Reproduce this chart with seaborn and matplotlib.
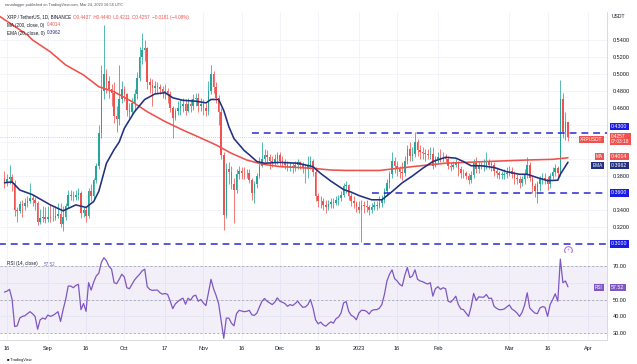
import matplotlib
matplotlib.use("Agg")
import matplotlib.pyplot as plt
import matplotlib.dates as mdates
import numpy as np
import pandas as pd
import seaborn as sns

# --- data (XRP/USDT daily, Binance) ---
start_day = "2022-08-15"
first_open = 0.378

close = [0.373, 0.376, 0.379, 0.372, 0.340, 0.339, 0.347, 0.345, 0.348, 0.350,
         0.354, 0.352, 0.348, 0.326, 0.330, 0.332, 0.329, 0.332, 0.330, 0.331,
         0.333, 0.335, 0.324, 0.332, 0.345, 0.358, 0.357, 0.355, 0.358, 0.360,
         0.336, 0.340, 0.333, 0.362, 0.356, 0.375, 0.392, 0.430, 0.480, 0.500,
         0.492, 0.482, 0.478, 0.450, 0.447, 0.470, 0.482, 0.476, 0.458, 0.455,
         0.466, 0.476, 0.495, 0.520, 0.528, 0.531, 0.490, 0.487, 0.484, 0.486,
         0.485, 0.482, 0.479, 0.480, 0.476, 0.460, 0.448, 0.456, 0.460, 0.462,
         0.465, 0.457, 0.465, 0.462, 0.470, 0.472, 0.462, 0.465, 0.460, 0.456,
         0.480, 0.500, 0.485, 0.472, 0.455, 0.405, 0.334, 0.388, 0.385, 0.370,
         0.364, 0.382, 0.386, 0.384, 0.383, 0.384, 0.375, 0.360, 0.370, 0.380,
         0.392, 0.400, 0.405, 0.402, 0.398, 0.396, 0.400, 0.405, 0.398, 0.396,
         0.393, 0.390, 0.392, 0.390, 0.393, 0.397, 0.393, 0.389, 0.388, 0.392,
         0.398, 0.385, 0.356, 0.350, 0.350, 0.346, 0.344, 0.347, 0.349, 0.348,
         0.352, 0.354, 0.358, 0.368, 0.369, 0.356, 0.350, 0.348, 0.344, 0.340,
         0.346, 0.345, 0.343, 0.340, 0.344, 0.346, 0.345, 0.348, 0.352, 0.362,
         0.372, 0.382, 0.398, 0.392, 0.388, 0.385, 0.383, 0.398, 0.412, 0.403,
         0.406, 0.420, 0.410, 0.408, 0.407, 0.406, 0.405, 0.406, 0.392, 0.400,
         0.402, 0.400, 0.401, 0.400, 0.392, 0.391, 0.393, 0.396, 0.388, 0.384,
         0.383, 0.380, 0.375, 0.381, 0.395, 0.388, 0.392, 0.392, 0.392, 0.396,
         0.393, 0.393, 0.386, 0.383, 0.381, 0.381, 0.382, 0.384, 0.386, 0.382,
         0.378, 0.376, 0.372, 0.376, 0.382, 0.393, 0.378, 0.368, 0.362, 0.370,
         0.376, 0.378, 0.377, 0.370, 0.380, 0.385, 0.389, 0.384, 0.470, 0.432,
         0.4437, 0.4257]

high = [0.386, 0.382, 0.393, 0.382, 0.375, 0.344, 0.350, 0.352, 0.354, 0.356,
        0.372, 0.358, 0.355, 0.350, 0.341, 0.345, 0.344, 0.345, 0.346, 0.344,
        0.345, 0.348, 0.348, 0.345, 0.348, 0.364, 0.363, 0.362, 0.364, 0.366,
        0.362, 0.344, 0.345, 0.366, 0.370, 0.378, 0.395, 0.440, 0.510, 0.558,
        0.506, 0.498, 0.488, 0.490, 0.462, 0.510, 0.492, 0.486, 0.478, 0.466,
        0.472, 0.482, 0.502, 0.532, 0.548, 0.540, 0.532, 0.495, 0.494, 0.492,
        0.491, 0.488, 0.486, 0.488, 0.484, 0.480, 0.462, 0.460, 0.468, 0.470,
        0.472, 0.470, 0.472, 0.470, 0.476, 0.478, 0.478, 0.472, 0.470, 0.466,
        0.492, 0.510, 0.504, 0.490, 0.475, 0.460, 0.408, 0.395, 0.396, 0.392,
        0.378, 0.388, 0.392, 0.390, 0.390, 0.388, 0.388, 0.378, 0.374, 0.384,
        0.402, 0.420, 0.412, 0.410, 0.406, 0.404, 0.406, 0.408, 0.408, 0.404,
        0.400, 0.398, 0.396, 0.396, 0.398, 0.400, 0.398, 0.396, 0.394, 0.404,
        0.404, 0.400, 0.390, 0.360, 0.356, 0.354, 0.352, 0.352, 0.354, 0.354,
        0.356, 0.358, 0.362, 0.372, 0.374, 0.370, 0.360, 0.356, 0.350, 0.350,
        0.352, 0.350, 0.352, 0.346, 0.348, 0.350, 0.350, 0.356, 0.358, 0.366,
        0.376, 0.386, 0.408, 0.402, 0.398, 0.392, 0.396, 0.404, 0.416, 0.420,
        0.414, 0.432, 0.424, 0.416, 0.414, 0.412, 0.412, 0.414, 0.414, 0.404,
        0.408, 0.412, 0.408, 0.406, 0.404, 0.396, 0.398, 0.400, 0.398, 0.392,
        0.388, 0.386, 0.384, 0.386, 0.400, 0.402, 0.398, 0.396, 0.400, 0.408,
        0.400, 0.398, 0.396, 0.390, 0.386, 0.386, 0.388, 0.390, 0.392, 0.390,
        0.386, 0.382, 0.380, 0.380, 0.388, 0.402, 0.396, 0.380, 0.372, 0.374,
        0.380, 0.384, 0.384, 0.380, 0.384, 0.390, 0.394, 0.392, 0.493, 0.478,
        0.455, 0.4440]

low = [0.366, 0.368, 0.370, 0.362, 0.333, 0.326, 0.336, 0.332, 0.340, 0.344,
       0.348, 0.345, 0.340, 0.322, 0.324, 0.326, 0.325, 0.326, 0.326, 0.327,
       0.328, 0.330, 0.320, 0.315, 0.328, 0.342, 0.352, 0.350, 0.352, 0.352,
       0.330, 0.332, 0.326, 0.331, 0.350, 0.352, 0.372, 0.388, 0.425, 0.470,
       0.478, 0.472, 0.462, 0.442, 0.432, 0.440, 0.466, 0.468, 0.450, 0.448,
       0.452, 0.458, 0.470, 0.492, 0.512, 0.515, 0.482, 0.478, 0.462, 0.478,
       0.478, 0.477, 0.472, 0.470, 0.466, 0.455, 0.425, 0.446, 0.452, 0.452,
       0.455, 0.452, 0.455, 0.455, 0.458, 0.462, 0.455, 0.456, 0.452, 0.450,
       0.452, 0.476, 0.478, 0.466, 0.440, 0.400, 0.316, 0.330, 0.370, 0.365,
       0.325, 0.360, 0.376, 0.376, 0.376, 0.378, 0.372, 0.352, 0.348, 0.366,
       0.378, 0.390, 0.396, 0.396, 0.388, 0.390, 0.392, 0.394, 0.392, 0.390,
       0.388, 0.386, 0.386, 0.384, 0.386, 0.388, 0.388, 0.384, 0.372, 0.378,
       0.388, 0.380, 0.350, 0.344, 0.342, 0.340, 0.336, 0.340, 0.342, 0.342,
       0.346, 0.346, 0.350, 0.355, 0.360, 0.352, 0.345, 0.342, 0.338, 0.336,
       0.302, 0.336, 0.338, 0.334, 0.336, 0.340, 0.340, 0.342, 0.344, 0.348,
       0.356, 0.366, 0.378, 0.384, 0.380, 0.378, 0.375, 0.380, 0.394, 0.398,
       0.398, 0.402, 0.404, 0.400, 0.400, 0.398, 0.400, 0.400, 0.388, 0.390,
       0.394, 0.396, 0.396, 0.396, 0.388, 0.386, 0.388, 0.390, 0.380, 0.378,
       0.378, 0.376, 0.370, 0.372, 0.378, 0.384, 0.384, 0.388, 0.386, 0.388,
       0.388, 0.386, 0.380, 0.378, 0.376, 0.376, 0.376, 0.378, 0.380, 0.378,
       0.370, 0.370, 0.366, 0.368, 0.370, 0.378, 0.374, 0.360, 0.355, 0.348,
       0.362, 0.370, 0.370, 0.364, 0.366, 0.376, 0.380, 0.376, 0.380, 0.425,
       0.422, 0.4211]

rsi = [54.4, 55, 56, 50, 34, 34.4, 39, 40, 40.4, 41.6,
       42.8, 41.6, 40, 32.4, 38, 39, 38.4, 40.8, 40, 40.6,
       41.6, 42.8, 37, 44, 50, 58, 58, 57, 58.4, 59,
       44, 47.6, 43, 60, 55.6, 60.4, 64, 65.6, 72, 74.8,
       73, 69.6, 68, 60, 59.4, 62, 65, 63.4, 57, 56.4,
       59, 61.6, 63.4, 65, 67, 68, 57.6, 56, 55.4, 55.6,
       55.6, 54, 53.2, 53.6, 53, 49, 44.6, 47.4, 48.8, 50,
       50.8, 47.2, 50.8, 49.6, 52, 52.6, 49, 50, 48, 46.4,
       54, 62, 56.4, 52.4, 47.4, 37, 27, 39, 39, 36,
       34.4, 41.6, 43.6, 43.2, 42.8, 43, 43.6, 41, 40.6, 42,
       45.6, 49, 50.6, 49, 48, 47, 48.4, 51, 49, 48.4,
       47.6, 46, 47, 46.4, 47.6, 49, 47, 45.4, 45.6, 47,
       50, 45, 38, 35.6, 36.6, 35, 34.2, 35.6, 36.8, 36,
       38.6, 39.6, 42, 48, 48.8, 43, 40.6, 39.8, 38, 42,
       43.6, 43.6, 43, 41.4, 43.4, 44, 44, 44.8, 47, 53,
       61, 65, 67.6, 62.4, 61, 59, 58, 64.4, 69, 63,
       64, 67.6, 62, 61, 60.6, 59.8, 59.2, 60, 52, 56.4,
       57.6, 56, 57, 56.4, 49, 48.4, 50, 52, 47, 44.4,
       44, 42, 40, 45.6, 53.6, 49.4, 51.6, 51.4, 51.4, 53,
       50.6, 50.8, 46, 44.8, 44, 44, 44.4, 45.6, 46.8, 44.4,
       43.4, 42, 40, 42.4, 46.8, 54, 45, 43.4, 42, 41.6,
       45, 45.8, 45.4, 40, 47, 50, 53.4, 49, 74, 60,
       61, 57.52]

ma_dates = ["2022-08-13", "2022-08-17", "2022-08-24", "2022-08-26", "2022-09-02",
            "2022-09-08", "2022-09-15", "2022-09-21", "2022-09-27", "2022-10-04",
            "2022-10-10", "2022-10-17", "2022-10-24", "2022-10-30", "2022-11-06",
            "2022-11-12", "2022-11-18", "2022-11-24", "2022-12-01", "2022-12-08",
            "2022-12-14", "2022-12-21", "2022-12-27", "2023-01-09", "2023-01-22",
            "2023-02-04", "2023-02-18", "2023-03-08", "2023-03-18", "2023-03-24"]
ma_vals = [0.568, 0.560, 0.546, 0.540, 0.526, 0.5106, 0.4988, 0.485, 0.479, 0.4675,
           0.4556, 0.444, 0.434, 0.426, 0.4165, 0.4067, 0.3988, 0.394, 0.391, 0.390,
           0.389, 0.387, 0.3865, 0.3865, 0.391, 0.395, 0.3968, 0.3988, 0.3996, 0.4014]

ema_dates = ["2022-08-15", "2022-08-18", "2022-08-21", "2022-08-26", "2022-09-02",
             "2022-09-07", "2022-09-12", "2022-09-16", "2022-09-19", "2022-09-21",
             "2022-09-24", "2022-09-27", "2022-09-29", "2022-10-01", "2022-10-05",
             "2022-10-09", "2022-10-13", "2022-10-17", "2022-10-20", "2022-10-24",
             "2022-10-29", "2022-11-02", "2022-11-04", "2022-11-07", "2022-11-09",
             "2022-11-11", "2022-11-13", "2022-11-15", "2022-11-17", "2022-11-19",
             "2022-11-22", "2022-11-25", "2022-12-01", "2022-12-08", "2022-12-14",
             "2022-12-17", "2022-12-21", "2022-12-26", "2022-12-29", "2023-01-01",
             "2023-01-06", "2023-01-10", "2023-01-14", "2023-01-18", "2023-01-22",
             "2023-01-26", "2023-01-30", "2023-02-04", "2023-02-08", "2023-02-11",
             "2023-02-14", "2023-02-18", "2023-02-23", "2023-02-28", "2023-03-05",
             "2023-03-08", "2023-03-12", "2023-03-16", "2023-03-20", "2023-03-21",
             "2023-03-24"]
ema_vals = [0.372, 0.373, 0.3635, 0.358, 0.346, 0.339, 0.346, 0.343, 0.350, 0.362,
            0.395, 0.411, 0.420, 0.436, 0.4556, 0.470, 0.4765, 0.478, 0.472, 0.469,
            0.468, 0.466, 0.470, 0.470, 0.457, 0.438, 0.424, 0.417, 0.410, 0.405,
            0.397, 0.395, 0.396, 0.395, 0.391, 0.383, 0.374, 0.364, 0.361, 0.357,
            0.352, 0.352, 0.3616, 0.372, 0.380, 0.389, 0.397, 0.402, 0.401, 0.397,
            0.392, 0.392, 0.390, 0.385, 0.382, 0.382, 0.378, 0.3745, 0.375, 0.382,
            0.3962]

levels = [0.43, 0.36, 0.30]
level_start = ["2022-11-20", "2023-01-06", "2022-08-10"]

tick_dates = ["2022-08-16", "2022-09-01", "2022-09-16", "2022-10-01", "2022-10-17",
              "2022-11-01", "2022-11-16", "2022-12-01", "2022-12-16", "2023-01-01",
              "2023-01-16", "2023-02-01", "2023-03-01", "2023-03-16", "2023-04-01"]
tick_labels = ["16", "Sep", "16", "Oct", "17", "Nov", "16", "Dec", "16", "2023",
               "16", "Feb", "Mar", "16", "Apr"]

# 0.40 / 0.42 / 0.44 sit under the price tags, so they keep a grid line but no label
price_ticks = [0.32, 0.34, 0.38, 0.40, 0.42, 0.44, 0.46, 0.48, 0.50, 0.52, 0.54]
hidden_ticks = [0.40, 0.42, 0.44]
rsi_ticks = [30, 40, 50, 60, 70]

# --- colours ---
UP = "#26a69a"
DOWN = "#ef5350"
MA_C = "#f0504c"
EMA_C = "#22307e"
LVL_C = "#2a2ad2"
LVL_BOX = "#1b1be6"
RSI_C = "#7e57c2"
TXT = "#131722"
GRID = "#f0f3fa"

sns.set_theme(style="white")
plt.rcParams["font.family"] = ["Liberation Sans", "DejaVu Sans"]

W, H = 637, 364
fig = plt.figure(figsize=(W / 100, H / 100), dpi=100)
fig.patch.set_facecolor("white")

def fx(px):
    return px / W

def fy(py):
    return 1 - py / H

ax = fig.add_axes([0, fy(253), fx(607), fy(12) - fy(253)])
ax_r = fig.add_axes([0, fy(340), fx(607), fy(253) - fy(340)])

dates = pd.date_range(start_day, periods=len(close), freq="D")
x = mdates.date2num(dates.to_pydatetime())
o = np.array([first_open] + close[:-1])
c = np.array(close)
hi = np.array(high)
lo = np.array(low)
up = c >= o

x0 = x[0] - 1.75
x1 = x[0] + 236.3

# grid
tick_x = mdates.date2num(pd.to_datetime(tick_dates).to_pydatetime())
for a in (ax, ax_r):
    a.set_xticks(tick_x)
    a.grid(True, color=GRID, lw=0.6)
    a.set_axisbelow(True)
    a.set_xlim(x0, x1)
    for s in a.spines.values():
        s.set_visible(False)
    a.spines["right"].set_visible(True)
    a.spines["right"].set_color("#d1d4dc")
    a.spines["right"].set_linewidth(0.6)
    a.spines["bottom"].set_visible(True)
    a.spines["bottom"].set_color("#d1d4dc")
    a.spines["bottom"].set_linewidth(0.6)

# candles
ax.vlines(x[up], lo[up], hi[up], color=UP, lw=0.55, zorder=3)
ax.vlines(x[~up], lo[~up], hi[~up], color=DOWN, lw=0.55, zorder=3)
body = np.maximum(np.abs(c - o), 0.0009)
bottom = np.minimum(o, c)
ax.bar(x[up], body[up], bottom=bottom[up], width=0.6, color=UP, lw=0, zorder=3)
ax.bar(x[~up], body[~up], bottom=bottom[~up], width=0.6, color=DOWN, lw=0, zorder=3)

# moving averages
ma_x = mdates.date2num(pd.to_datetime(ma_dates).to_pydatetime())
ema_x = mdates.date2num(pd.to_datetime(ema_dates).to_pydatetime())
sns.lineplot(x=ma_x, y=ma_vals, ax=ax, color=MA_C, lw=1.15, sort=False, zorder=4)
sns.lineplot(x=ema_x, y=ema_vals, ax=ax, color=EMA_C, lw=1.15, sort=False, zorder=5)

# horizontal levels
for lv, ls in zip(levels, level_start):
    xs = mdates.date2num(pd.Timestamp(ls).to_pydatetime())
    ax.plot([xs, x1], [lv, lv], color=LVL_C, lw=1.1, ls=(0, (4.5, 3.2)), zorder=6)

# last price dotted line
ax.axhline(close[-1], color=DOWN, lw=0.5, ls=(0, (1, 2)), alpha=0.7, zorder=2)

ax.set_ylim(0.2894, 0.5729)
ax.yaxis.tick_right()
ax.set_yticks(price_ticks)
ax.set_yticklabels(["" if t in hidden_ticks else f"{t:.4f}" for t in price_ticks])
ax.tick_params(axis="y", length=0, pad=4, labelsize=4, labelcolor=TXT)
ax.tick_params(axis="x", length=0, labelbottom=False)
ax.set_ylabel("")
ax.set_xlabel("")

# lightning marker
ax.plot([x[-1]], [0.2925], marker="o", ms=5.5, mfc="white", mec="#b25ed8", mew=0.7,
        clip_on=False, zorder=7)
ax.text(x[-1], 0.2925, "\u26a1", fontsize=3, color="#b25ed8", ha="center", va="center",
        family=["DejaVu Sans"], clip_on=False, zorder=8)

# right axis tags
def tag(a, yv, text, fc, xpos=1.007, ha="left", fs=3.8):
    a.text(xpos, yv, text, transform=a.get_yaxis_transform(), ha=ha, va="center",
           fontsize=fs, color="white", clip_on=False, zorder=10, linespacing=1.0,
           bbox=dict(boxstyle="square,pad=0.22", fc=fc, ec="none"))

tag(ax, 0.4385, "0.4300", LVL_BOX)
tag(ax, 0.4232, "0.4257\n07:03:18", DOWN, fs=3.4)
tag(ax, 0.4232, "XRPUSDT", DOWN, xpos=0.993, ha="right", fs=3.4)
tag(ax, 0.4028, "0.4014", DOWN)
tag(ax, 0.4028, "MA", DOWN, xpos=0.993, ha="right", fs=3.4)
tag(ax, 0.3922, "0.3962", EMA_C)
tag(ax, 0.3922, "EMA", EMA_C, xpos=0.993, ha="right", fs=3.4)
tag(ax, 0.36, "0.3600", LVL_BOX)
tag(ax, 0.30, "0.3000", LVL_BOX)

# RSI panel
ax_r.axhspan(30, 70, color=RSI_C, alpha=0.09, lw=0, zorder=1)
for lv in (70, 50, 30):
    ax_r.axhline(lv, color="#9598a1", lw=0.5, ls=(0, (3, 3)), zorder=2)
sns.lineplot(x=x, y=rsi, ax=ax_r, color=RSI_C, lw=0.9, sort=False, zorder=4)
ax_r.set_ylim(26.0, 77.6)
ax_r.yaxis.tick_right()
ax_r.set_yticks(rsi_ticks)
ax_r.set_yticklabels(["" if t == 60 else f"{t:.2f}" for t in rsi_ticks])
ax_r.tick_params(axis="y", length=0, pad=4, labelsize=4, labelcolor=TXT)
ax_r.set_xticklabels(tick_labels)
ax_r.tick_params(axis="x", length=0, pad=4.5, labelsize=4, labelcolor=TXT)
ax_r.set_ylabel("")
ax_r.set_xlabel("")
tag(ax_r, 57.3, "57.52", RSI_C)
tag(ax_r, 57.3, "RSI", RSI_C, xpos=0.993, ha="right", fs=3.4)

# header and legends
fig.text(fx(5), fy(5), "ranadagger published on TradingView.com, Mar 24, 2023 16:56 UTC",
         fontsize=2.8, color="#50535e", va="center")
fig.text(fx(7), fy(17), "XRP / TetherUS, 1D, BINANCE", fontsize=3.3, color=TXT, va="center")
fig.text(fx(73), fy(17), "O0.4437  H0.4440  L0.4211  C0.4257  \u22120.0181 (\u22124.08%)",
         fontsize=3.3, color=DOWN, va="center")
fig.text(fx(7), fy(25), "MA (200, close, 0)", fontsize=3.3, color=TXT, va="center")
fig.text(fx(47), fy(25), "0.4014", fontsize=3.3, color=DOWN, va="center")
fig.text(fx(7), fy(33), "EMA (20, close, 0)", fontsize=3.3, color=TXT, va="center")
fig.text(fx(47), fy(33), "0.3962", fontsize=3.3, color=EMA_C, va="center")
fig.text(fx(7), fy(264), "RSI (14, close)", fontsize=3.3, color=TXT, va="center")
fig.text(fx(44), fy(264), "57.52", fontsize=3.3, color=RSI_C, va="center")
fig.text(fx(612), fy(17), "USDT", fontsize=3.6, color=TXT, va="center")
fig.text(fx(7), fy(360), "\u25a0 TradingView", fontsize=2.8, color=TXT, va="center")

fig.savefig("out.png", dpi=100)
